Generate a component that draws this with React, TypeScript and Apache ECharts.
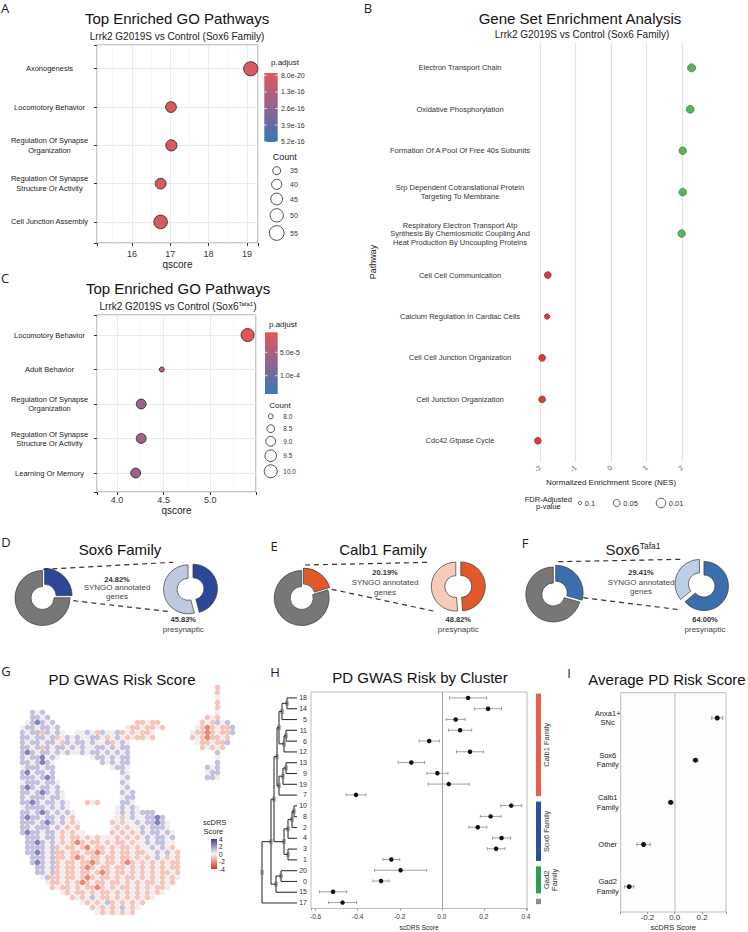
import React, { useEffect, useRef } from 'react';
import * as echarts from 'echarts';

const FONT = '"Liberation Sans", Arial, Helvetica, sans-serif';
const LETTER_FONT = '"Open Sans", "Liberation Sans", Arial, sans-serif';

// ===== Panel A: Top Enriched GO Pathways (Sox6 Family) =====
const aTerms = ['Axonogenesis', 'Locomotory Behavior', 'Regulation Of Synapse\nOrganization', 'Regulation Of Synapse\nStructure Or Activity', 'Cell Junction Assembly'];
const aQscore = [19.1, 17.02, 17.03, 16.75, 16.75];
const aCount = [53, 42, 43, 42, 51];
const aPadj = [8.0e-20, 1.0e-17, 1.2e-17, 2.0e-17, 2.0e-17];
const aCountLegend = [35, 40, 45, 50, 55];
const aPadjTicks = [8.0e-20, 1.3e-16, 2.6e-16, 3.9e-16, 5.2e-16];
const aPadjDomain = [-1.8e-17, 5.22e-16];

// ===== Panel B: GSEA =====
const bPathways = [
  'Electron Transport Chain',
  'Oxidative Phosphorylation',
  'Formation Of A Pool Of Free 40s Subunits',
  'Srp Dependent Cotranslational Protein\nTargeting To Membrane',
  'Respiratory Electron Transport Atp\nSynthesis By Chemiosmotic Coupling And\nHeat Production By Uncoupling Proteins',
  'Cell Cell Communication',
  'Calcium Regulation In Cardiac Cells',
  'Cell Cell Junction Organization',
  'Cell Junction Organization',
  'Cdc42 Gtpase Cycle',
];
const bNES = [2.27, 2.23, 2.02, 2.02, 1.99, -1.78, -1.8, -1.94, -1.94, -2.06];
const bFDR = [0.026, 0.03, 0.036, 0.036, 0.036, 0.053, 0.069, 0.053, 0.053, 0.053];
const bFdrLegend = [0.1, 0.05, 0.01];

// ===== Panel C: Top Enriched GO Pathways (Sox6 Tafa1) =====
const cTerms = ['Locomotory Behavior', 'Adult Behavior', 'Regulation Of Synapse\nOrganization', 'Regulation Of Synapse\nStructure Or Activity', 'Learning Or Memory'];
const cQscore = [5.4, 4.48, 4.26, 4.26, 4.2];
const cCount = [10, 8, 9, 9, 9];
const cPadj = [8.5e-6, 3.0e-5, 6.0e-5, 6.0e-5, 6.3e-5];
const cCountLegend = [8.0, 8.5, 9.0, 9.5, 10.0];
const cPadjTicks = [5.0e-5, 1.0e-4];
const cPadjDomain = [7.3e-6, 1.39e-4];

// ===== Panels D-F: SYNGO donuts =====
const syngoPct = [24.82, 20.19, 29.41];
const presynPct = [45.83, 48.82, 64.0];

// ===== Panel G: UMAP scDRS (cells; [startColumn, tints]) =====
const umapRows: [number, string][][] = [
  [[40, 'r']],
  [[40, 'r']],
  [[40, 'm']],
  [[40, 'r']],
  [[40, 'r']],
  [[3, 'bmb'], [40, 'm']],
  [[3, 'bbmb'], [38, 'rmr']],
  [[2, 'mbBbmb'], [24, 'rrmrr'], [37, 'rmrbmb']],
  [[1, 'mbbmbbmb'], [22, 'mrrmrrmr'], [36, 'mrRrmrrb']],
  [[1, 'bmbbrbmbm'], [12, 'mmbmrbmmbrmrmrrm'], [35, 'mrrRrmrrb']],
  [[1, 'bbmbbmbrmbmbmmbbmrmbmrmrrmr'], [35, 'rmrRrrmr']],
  [[1, 'bmbbmbbmrbmbbmbmmbrmbm'], [36, 'mrrmrrb']],
  [[1, 'bbmbrbmbbmbmbmmbbmbmbb'], [37, 'rmrmr']],
  [[1, 'bBbmbbmbmbmmbmbbmbmbmb'], [40, 'b']],
  [[1, 'bmbbBmbm'], [15, 'mbbmbmbb'], [40, 'm']],
  [[1, 'bbmbBbm'], [17, 'bmbmbb'], [40, 'b']],
  [[1, 'mbbbmbb'], [19, 'mbbm'], [38, 'bmb']],
  [[1, 'bBmbbmb'], [21, 'bm'], [38, 'mbb']],
  [[1, 'bbbmbBb'], [21, 'mb'], [38, 'bbm']],
  [[1, 'mbbbmbbm'], [21, 'bm']],
  [[1, 'bBbmbbmb'], [21, 'mb']],
  [[1, 'bbmbBbmbm'], [21, 'bmb']],
  [[1, 'bmbbbmbbm'], [21, 'mbb']],
  [[1, 'bbBbmbbmbm'], [14, 'rmr'], [21, 'bbm']],
  [[1, 'mbbbbmbmbm'], [20, 'mbmbm']],
  [[1, 'bbmbBbmbmbm'], [20, 'mbmbmbbb']],
  [[1, 'bBbbmbbmbmr'], [20, 'mrmbmmbbBb']],
  [[1, 'bbbmbBbmbmrm'], [19, 'rmrmmbmbbBbm']],
  [[1, 'bbmbbbmbmrmr'], [19, 'mrmrmmbmbbbm']],
  [[1, 'bBbbmbbmrmrmm'], [19, 'rmrmrmbmbbmbm']],
  [[2, 'bbbmbbmrmrrmrmrmmmrmrmrmbmbbmb']],
  [[2, 'bbBbmbmrmrRrmrrmrmrrmrmmbmbbmm']],
  [[2, 'bbbbmbrmrrmrRmrrmrmrrmrmmbmbmr']],
  [[2, 'bbBbmbrrmrrmrrRrmrmrrmrrmmbmbmr']],
  [[3, 'bbbmbrrmrRrmrrmrrmrrmrmrmbmrmr']],
  [[3, 'bBbmbrmrrmrrRrmrrmrRrmrmrmrmrr']],
  [[4, 'bbmbrmrrmrRrmrrmrrmrmrmrmrmrr']],
  [[4, 'bbmbrmrrmrrmrRrmrrmrmrmrmrrmr']],
  [[5, 'mbrrmrrmrRrmrrmrmrrmrmrmrmrm']],
  [[6, 'mrrmrmrRrmrrmrrmrmrmrrmrmr']],
  [[7, 'rmrrmrmrrRrmrmrrmrmrmrrm']],
  [[9, 'mrmrrmrmrrmrmrmrmrmrm']],
  [[11, 'rmrmbmrrmrmrmrmrm']],
  [[13, 'mrmrmbrmrmrmr']],
  [[15, 'rmrmrmbmrm']],
  [[16, 'mrmrmrmr']],
];
const umapTint: Record<string, string> = { B: '#5B59A4', b: '#B1ADD6', m: '#EFE7EB', r: '#F1B4A5', R: '#DC6450' };
const scdrsTicks = [4, 2, 0, -2, -4];

// ===== Panel H: PD GWAS risk by cluster =====
const hClusters = ['18', '14', '5', '11', '6', '12', '13', '9', '19', '7', '10', '8', '2', '4', '3', '1', '20', '0', '15', '17'];
const hScore = [0.125, 0.22, 0.066, 0.087, -0.06, 0.134, -0.145, -0.021, 0.033, -0.408, 0.33, 0.232, 0.171, 0.284, 0.258, -0.24, -0.196, -0.289, -0.517, -0.472];
const hErr = [0.088, 0.064, 0.045, 0.055, 0.048, 0.064, 0.063, 0.05, 0.098, 0.047, 0.05, 0.049, 0.043, 0.043, 0.042, 0.04, 0.124, 0.038, 0.065, 0.066];
// dendrogram merges: [child, child, height]; nK refers to the K-th merge
const hMerges: [string, string, number][] = [
  ['18', '14', 10], ['n0', '5', 15], ['11', '6', 11], ['n2', '12', 13], ['n1', 'n3', 18],
  ['13', '9', 11], ['n5', '19', 14], ['n6', '7', 18], ['n4', 'n7', 20],
  ['10', '8', 3], ['n9', '2', 5], ['n10', '4', 9], ['3', '1', 9], ['n11', 'n12', 13],
  ['n8', 'n13', 23], ['20', '0', 16], ['n15', '15', 21], ['n14', 'n16', 26], ['n17', '17', 35],
];
const hFamilies = ['Calb1 Family', 'Sox6 Family', 'Gad2\nFamily', ''];
const hFamilySizes = [10, 6, 3, 1];
const hFamilyColors = ['#E8604C', '#2C4E9C', '#2F9B58', '#8C8C8C'];

// ===== Panel I: Average PD risk score =====
const iGroups = ['Anxa1+\nSNc', 'Sox6\nFamily', 'Calb1\nFamily', 'Other', 'Gad2\nFamily'];
const iScore = [0.311, 0.152, -0.029, -0.228, -0.333];
const iErr = [0.04, 0.018, 0.017, 0.049, 0.034];

// ---------- helpers ----------
const padjStops = ['#E2585A', '#8F6590', '#3877B6'];
const scdrsStops = ['#3D3B96', '#F7F4F7', '#D4351F'];

function hexToRgb(h: string) {
  const n = parseInt(h.slice(1), 16);
  return [(n >> 16) & 255, (n >> 8) & 255, n & 255];
}
function rampColor(stops: string[], t: number) {
  const tt = Math.max(0, Math.min(1, t));
  const n = stops.length - 1;
  const i = Math.min(n - 1, Math.floor(tt * n));
  const f = tt * n - i;
  const a = hexToRgb(stops[i]);
  const b = hexToRgb(stops[i + 1]);
  const c = a.map((v, k) => Math.round(v + (b[k] - v) * f));
  return `rgb(${c[0]},${c[1]},${c[2]})`;
}
function vGrad(stops: string[]) {
  return new echarts.graphic.LinearGradient(0, 0, 0, 1, stops.map((c, i) => ({ offset: i / (stops.length - 1), color: c })));
}
const sizeA = (c: number) => Math.sqrt(64 + (c - 35) * 7.6);
const sizeC = (c: number) => Math.sqrt(25 + (c - 8) * 72);
function fdrSize(p: number) {
  const L = -Math.log10(p);
  const pts = [[1, 3.3], [1.301, 7], [2, 9.5]];
  if (L <= pts[0][0]) return pts[0][1];
  for (let i = 0; i < pts.length - 1; i++) {
    const [x0, y0] = pts[i];
    const [x1, y1] = pts[i + 1];
    if (L <= x1) return y0 + ((y1 - y0) * (L - x0)) / (x1 - x0);
  }
  return pts[pts.length - 1][1];
}
const isMult = (v: number, s: number) => Math.abs(v / s - Math.round(v / s)) < 1e-6;
const catFmt = (names: string[]) => (v: number) => {
  const i = Math.round(v);
  return Math.abs(v - i) < 1e-6 && i >= 0 && i < names.length ? names[i] : '';
};

function txt(x: number, y: number, text: string, size: number, o: any = {}) {
  return {
    type: 'text', x, y, rotation: o.rot || 0, silent: true, z: 50,
    style: {
      text, x: 0, y: 0, fill: o.color || '#222', fontSize: size, fontFamily: o.family || FONT,
      fontWeight: o.weight || 'normal', align: o.align || 'center', verticalAlign: 'middle',
      textAlign: o.align || 'center', textVerticalAlign: 'middle', lineHeight: o.lh,
    },
  };
}
function supTxt(x: number, y: number, main: string, sup: string, tail: string, size: number, supSize: number) {
  const base = { fontSize: size, fontFamily: FONT, fill: '#222', color: '#222', lineHeight: size * 1.02 };
  return {
    type: 'text', x, y, silent: true, z: 50,
    style: {
      text: `{n|${main}}{s|${sup}}` + (tail ? `{n|${tail}}` : ''),
      x: 0, y: 0, align: 'center', verticalAlign: 'middle', textAlign: 'center', textVerticalAlign: 'middle',
      rich: {
        n: base,
        s: { fontSize: supSize, fontFamily: FONT, fill: '#222', color: '#222', lineHeight: supSize * 1.1, verticalAlign: 'top' },
      },
    },
  };
}
function line(x1: number, y1: number, x2: number, y2: number, o: any = {}) {
  return { type: 'line', silent: true, z: 50, shape: { x1, y1, x2, y2 }, style: { stroke: o.color || '#333', lineWidth: o.w || 1, lineDash: o.dash } };
}

function buildOption() {
  // ---------- graphic ----------
  const g: any[] = [];
  ([['A', 5, 8], ['B', 368, 8], ['C', 5, 278], ['D', 6, 542], ['E', 274, 546], ['F', 525, 543], ['G', 6, 671], ['H', 275, 672], ['I', 569, 673]] as [string, number, number][])
    .forEach(([t, x, y]) => g.push(txt(x, y, t, 13, { family: LETTER_FONT, color: '#222' })));
  g.push(txt(177, 18, 'Top Enriched GO Pathways', 15, { color: '#111' }));
  g.push(txt(177, 36, 'Lrrk2 G2019S vs Control (Sox6 Family)', 10));
  g.push(txt(580, 18, 'Gene Set Enrichment Analysis', 15, { color: '#111' }));
  g.push(txt(582, 34, 'Lrrk2 G2019S vs Control (Sox6 Family)', 10));
  g.push(txt(178, 288, 'Top Enriched GO Pathways', 15, { color: '#111' }));
  g.push(supTxt(178, 306, 'Lrrk2 G2019S vs Control (Sox6', 'Tafa1', ')', 10, 6));
  g.push(txt(120, 549, 'Sox6 Family', 15, { color: '#111' }));
  g.push(txt(383, 549, 'Calb1 Family', 15, { color: '#111' }));
  g.push(supTxt(633, 549, 'Sox6', 'Tafa1', '', 15, 8.5));
  g.push(txt(122, 679, 'PD GWAS Risk Score', 15, { color: '#111' }));
  g.push(txt(420, 677, 'PD GWAS Risk by Cluster', 15, { color: '#111' }));
  g.push(txt(667, 679, 'Average PD Risk Score', 15, { color: '#111' }));

  // A legend
  const aBar = { x: 264.3, y: 73, w: 13.4, h: 69 };
  g.push(txt(285, 62, 'p.adjust', 8));
  g.push({ type: 'rect', silent: true, z: 40, shape: { x: aBar.x, y: aBar.y, width: aBar.w, height: aBar.h }, style: { fill: vGrad(padjStops) } });
  aPadjTicks.forEach((v) => {
    const y = aBar.y + ((v - aPadjDomain[0]) / (aPadjDomain[1] - aPadjDomain[0])) * aBar.h;
    g.push(line(aBar.x, y, aBar.x + 2.5, y, { color: '#fff', w: 0.8 }));
    g.push(line(aBar.x + aBar.w - 2.5, y, aBar.x + aBar.w, y, { color: '#fff', w: 0.8 }));
    g.push(txt(281, y, v.toExponential(1), 7, { align: 'left', color: '#333' }));
  });
  g.push(txt(284.7, 156.7, 'Count', 9));
  const aLegY = [170.7, 184.3, 199, 215.3, 233];
  aCountLegend.forEach((c, i) => {
    g.push({ type: 'circle', silent: true, z: 40, shape: { cx: 276.7, cy: aLegY[i], r: sizeA(c) / 2 }, style: { fill: 'transparent', stroke: '#222', lineWidth: 0.8 } });
    g.push(txt(290, aLegY[i], String(c), 7, { align: 'left', color: '#333' }));
  });

  // C legend
  const cBar = { x: 265, y: 332.3, w: 12.7, h: 61.7 };
  g.push(txt(283, 324.7, 'p.adjust', 8));
  g.push({ type: 'rect', silent: true, z: 40, shape: { x: cBar.x, y: cBar.y, width: cBar.w, height: cBar.h }, style: { fill: vGrad(padjStops) } });
  cPadjTicks.forEach((v) => {
    const y = cBar.y + ((v - cPadjDomain[0]) / (cPadjDomain[1] - cPadjDomain[0])) * cBar.h;
    g.push(line(cBar.x, y, cBar.x + 2.5, y, { color: '#fff', w: 0.8 }));
    g.push(line(cBar.x + cBar.w - 2.5, y, cBar.x + cBar.w, y, { color: '#fff', w: 0.8 }));
    g.push(txt(280, y, v.toExponential(1), 7, { align: 'left', color: '#333' }));
  });
  g.push(txt(280, 405.3, 'Count', 8));
  const cLegY = [416.3, 428.7, 441.3, 455.7, 471.3];
  cCountLegend.forEach((c, i) => {
    g.push({ type: 'circle', silent: true, z: 40, shape: { cx: 270.7, cy: cLegY[i], r: sizeC(c) / 2 }, style: { fill: 'transparent', stroke: '#222', lineWidth: 0.8 } });
    g.push(txt(283.3, cLegY[i], c.toFixed(1), 6.5, { align: 'left', color: '#333' }));
  });

  // B extras
  g.push(txt(373, 262, 'Pathway', 9, { rot: Math.PI / 2 }));
  g.push(txt(548.3, 499.3, 'FDR-Adjusted', 7.5));
  g.push(txt(548.3, 506.7, 'p-value', 7.5));
  const bLegX = [580, 616.7, 661];
  bFdrLegend.forEach((p, i) => {
    const r = fdrSize(p) / 2;
    g.push({ type: 'circle', silent: true, z: 40, shape: { cx: bLegX[i], cy: 503, r }, style: { fill: 'transparent', stroke: '#333', lineWidth: 0.8 } });
    g.push(txt(bLegX[i] + r + 3, 503, String(p), 7.5, { align: 'left', color: '#333' }));
  });

  // D-F text + dashed connectors
  const pctTexts = [
    { x: 117, y: [579, 587.3, 596], px: 183.3 },
    { x: 385, y: [572.3, 582.7, 592.3], px: 458.3 },
    { x: 641, y: [572.7, 582.7, 591.7], px: 705 },
  ];
  pctTexts.forEach((t, k) => {
    g.push(txt(t.x, t.y[0], syngoPct[k].toFixed(2) + '%', 7.5, { weight: 'bold', color: '#333' }));
    g.push(txt(t.x, t.y[1], 'SYNGO annotated', 8, { color: '#444' }));
    g.push(txt(t.x, t.y[2], 'genes', 8, { color: '#444' }));
    g.push(txt(t.px, 619.3, presynPct[k].toFixed(2) + '%', 7.5, { weight: 'bold', color: '#333' }));
    g.push(txt(t.px, 629, 'presynaptic', 8, { color: '#444' }));
  });
  const dashes = [
    [43.3, 569.3, 173.3, 562.3], [73.3, 600.7, 170, 611.7],
    [305, 565, 430, 562.3], [331.7, 589.3, 433.3, 611],
    [558.3, 561.7, 681.7, 559.3], [583.3, 597.7, 681.7, 610],
  ];
  dashes.forEach(([x1, y1, x2, y2]) => g.push(line(x1, y1, x2, y2, { color: '#333', w: 1.2, dash: [5, 4] })));

  // G legend
  g.push(txt(203, 822.5, 'scDRS', 7.5, { align: 'left' }));
  g.push(txt(203.5, 831.5, 'Score', 7.5, { align: 'left' }));
  const sBar = { x: 211, y: 839, w: 6, h: 30 };
  g.push({ type: 'rect', silent: true, z: 40, shape: { x: sBar.x, y: sBar.y, width: sBar.w, height: sBar.h }, style: { fill: vGrad(scdrsStops) } });
  scdrsTicks.forEach((v) => {
    const y = sBar.y + ((4 - v) / 8) * sBar.h;
    g.push(txt(219, y, String(v), 6.5, { align: 'left', color: '#222' }));
  });

  // ---------- data prep ----------
  const aDomainSpan = aPadjDomain[1] - aPadjDomain[0];
  const aData = aQscore.map((q, i) => ({
    value: [q, i, aCount[i]],
    itemStyle: { color: rampColor(padjStops, (aPadj[i] - aPadjDomain[0]) / aDomainSpan) },
  }));
  const cData = cQscore.map((q, i) => ({
    value: [q, i, cCount[i]],
    itemStyle: { color: rampColor(padjStops, (cPadj[i] - cPadjDomain[0]) / (cPadjDomain[1] - cPadjDomain[0])) },
  }));
  const bData = bNES.map((v, i) => ({
    value: [v, i, bFDR[i]],
    symbolSize: fdrSize(bFDR[i]),
    itemStyle: v > 0 ? { color: '#5DB35D', borderColor: '#3B873B' } : { color: '#DC3C3C', borderColor: '#962222' },
  }));
  const umapData: any[] = [];
  umapRows.forEach((runs, r) =>
    runs.forEach(([c0, s]) => {
      for (let j = 0; j < s.length; j++) {
        umapData.push({ value: [c0 + j + 0.5, r + 0.5], itemStyle: { color: umapTint[s[j]] } });
      }
    })
  );
  const pos: Record<string, { h: number; y: number }> = {};
  hClusters.forEach((c, i) => (pos[c] = { h: 0, y: i }));
  const dendroData: number[][] = [];
  hMerges.forEach(([a, b, h], k) => {
    const A = pos[a];
    const B = pos[b];
    const y = (A.y + B.y) / 2;
    pos['n' + k] = { h, y };
    dendroData.push([h, y, A.h, A.y, B.h, B.y]);
  });
  const famData: number[][] = [];
  let start = 0;
  hFamilySizes.forEach((n, k) => {
    famData.push([start, start + n - 1, k]);
    start += n;
  });

  const errRender = (cap: number) => (params: any, api: any) => {
    const lo = api.value(0);
    const hi = api.value(1);
    const y = api.value(2);
    const a = api.coord([lo, y]);
    const b = api.coord([hi, y]);
    const st = { stroke: '#8a8a8a', lineWidth: 0.8 };
    return {
      type: 'group',
      children: [
        { type: 'line', shape: { x1: a[0], y1: a[1], x2: b[0], y2: b[1] }, style: st },
        { type: 'line', shape: { x1: a[0], y1: a[1] - cap, x2: a[0], y2: a[1] + cap }, style: st },
        { type: 'line', shape: { x1: b[0], y1: b[1] - cap, x2: b[0], y2: b[1] + cap }, style: st },
      ],
    };
  };

  const pie = (cx: number, cy: number, r0: number, r1: number, items: any[], off: number) => ({
    type: 'pie', center: [cx, cy], radius: [r0, r1], startAngle: 90, clockwise: true,
    selectedMode: 'multiple', selectedOffset: off, silent: true, emphasis: { disabled: true },
    label: { show: false }, labelLine: { show: false }, avoidLabelOverlap: false,
    data: items.map((it) => ({ value: it.v, selected: it.sel, itemStyle: { color: it.c, borderColor: '#3a3a3a', borderWidth: 0.7 } })),
  });
  const GRAY = '#777777';
  const donutColors = [['#2C4795', '#BEC8DF'], ['#E2582A', '#F8CBB8'], ['#3A6EAF', '#BCCFE6']];
  const leftCenters = [[42.5, 598], [301.7, 598], [553.3, 594.5]];
  const rightCenters = [[190.5, 589], [458.3, 586.5], [701.7, 585]];
  const pies: any[] = [];
  syngoPct.forEach((p, k) => {
    pies.push(pie(leftCenters[k][0], leftCenters[k][1], 11.5, 27.5, [
      { v: p, c: donutColors[k][0], sel: true },
      { v: 100 - p, c: GRAY, sel: false },
    ], 3));
    pies.push(pie(rightCenters[k][0], rightCenters[k][1], 11, 24.5, [
      { v: presynPct[k], c: donutColors[k][0], sel: true },
      { v: 100 - presynPct[k], c: donutColors[k][1], sel: true },
    ], 2.5));
  });

  const hiddenAxis = (gi: number, min: number, max: number, inverse = false) => ({ gridIndex: gi, type: 'value', min, max, inverse, show: false, axisLine: { onZero: false } });
  const noLine = { show: false, onZero: false };

  return {
    animation: false,
    backgroundColor: '#ffffff',
    textStyle: { fontFamily: FONT },
    grid: [
      { left: 97, top: 45, width: 161, height: 198, show: true, borderColor: '#8f8f8f', borderWidth: 1, backgroundColor: '#fff' },
      { left: 540, top: 43, width: 142, height: 418.5, show: false },
      { left: 97, top: 315, width: 159, height: 177, show: true, borderColor: '#8f8f8f', borderWidth: 1, backgroundColor: '#fff' },
      { left: 15, top: 685, width: 230, height: 230, show: false },
      { left: 262, top: 692, width: 35, height: 217, show: false },
      { left: 311, top: 692, width: 216, height: 217, show: true, borderColor: '#bdbdbd', borderWidth: 1, backgroundColor: '#fff' },
      { left: 536, top: 692, width: 5, height: 217, show: false },
      { left: 620.7, top: 692.7, width: 105.3, height: 220, show: true, borderColor: '#bdbdbd', borderWidth: 1, backgroundColor: '#fdfdfd' },
    ],
    xAxis: [
      {
        gridIndex: 0, type: 'value', position: 'bottom', min: 15.09, max: 19.29, splitNumber: 5,
        axisLine: noLine,
        axisTick: { show: true, length: 3, lineStyle: { color: '#333' } },
        axisLabel: { color: '#333', fontSize: 9, margin: 6, formatter: (v: number) => (isMult(v, 1) ? v.toFixed(0) : '') },
        splitLine: { show: true, lineStyle: { color: '#EBEBEB', width: 1 } },
        minorTick: { show: false, splitNumber: 2 },
        minorSplitLine: { show: true, lineStyle: { color: '#F4F4F4', width: 0.6 } },
        name: 'qscore', nameLocation: 'middle', nameGap: 16, nameTextStyle: { fontSize: 10, color: '#222' },
      },
      {
        gridIndex: 1, type: 'value', position: 'bottom', min: -2, max: 2, interval: 1,
        axisLine: noLine, axisTick: { show: false },
        axisLabel: { rotate: 45, fontSize: 7, color: '#555', margin: 5 },
        splitLine: { show: true, lineStyle: { color: '#E3E3E3', width: 1.2 } },
        name: 'Normalized Enrichment Score (NES)', nameLocation: 'middle', nameGap: 16.5, nameTextStyle: { fontSize: 8, color: '#222' },
      },
      {
        gridIndex: 2, type: 'value', position: 'bottom', min: 3.786, max: 5.49, splitNumber: 3,
        axisLine: noLine,
        axisTick: { show: true, length: 3, lineStyle: { color: '#333' } },
        axisLabel: { color: '#333', fontSize: 9, margin: 3.5, formatter: (v: number) => (isMult(v, 0.5) ? v.toFixed(1) : '') },
        splitLine: { show: true, lineStyle: { color: '#EBEBEB', width: 1 } },
        minorTick: { show: false, splitNumber: 2 },
        minorSplitLine: { show: true, lineStyle: { color: '#F4F4F4', width: 0.6 } },
        name: 'qscore', nameLocation: 'middle', nameGap: 12.5, nameTextStyle: { fontSize: 10, color: '#222' },
      },
      hiddenAxis(3, 0, 46),
      hiddenAxis(4, 0, 35, true),
      {
        gridIndex: 5, type: 'value', position: 'bottom', min: -0.622, max: 0.405, splitNumber: 5,
        axisLine: noLine,
        axisTick: { show: true, length: 2, lineStyle: { color: '#999' } },
        axisLabel: { color: '#333', fontSize: 6.5, margin: 4.5, formatter: (v: number) => (isMult(v, 0.2) ? (Math.abs(v) < 1e-9 ? '0.0' : v.toFixed(1)) : '') },
        splitLine: { show: false },
        name: 'scDRS Score', nameLocation: 'middle', nameGap: 15.5, nameTextStyle: { fontSize: 6.5, color: '#222' },
      },
      hiddenAxis(6, 0, 1),
      {
        gridIndex: 7, type: 'value', position: 'bottom', min: -0.395, max: 0.375, splitNumber: 5,
        axisLine: noLine,
        axisTick: { show: true, length: 2, lineStyle: { color: '#999' } },
        axisLabel: { color: '#333', fontSize: 8, margin: 1.5, formatter: (v: number) => (isMult(v, 0.2) ? (Math.abs(v) < 1e-9 ? '0.0' : v.toFixed(1)) : '') },
        splitLine: { show: false },
        name: 'scDRS Score', nameLocation: 'middle', nameGap: 11, nameTextStyle: { fontSize: 7.5, color: '#222' },
      },
    ],
    yAxis: [
      {
        gridIndex: 0, type: 'value', position: 'left', inverse: true, min: -0.62, max: 4.55, splitNumber: 5,
        axisLine: noLine,
        axisTick: { show: true, length: 3, lineStyle: { color: '#333' } },
        axisLabel: { formatter: catFmt(aTerms), align: 'center', margin: 47.5, fontSize: 7.5, lineHeight: 10.5, color: '#222' },
        splitLine: { show: true, lineStyle: { color: '#EBEBEB', width: 1 } },
      },
      {
        gridIndex: 1, type: 'value', position: 'left', inverse: true, min: -0.6, max: 9.5, splitNumber: 10,
        axisLine: noLine, axisTick: { show: false }, splitLine: { show: false },
        axisLabel: { formatter: catFmt(bPathways), align: 'center', margin: 80, fontSize: 7.5, lineHeight: 8.5, color: '#333' },
      },
      {
        gridIndex: 2, type: 'value', position: 'left', inverse: true, min: -0.58, max: 4.55, splitNumber: 5,
        axisLine: noLine,
        axisTick: { show: true, length: 3, lineStyle: { color: '#333' } },
        axisLabel: { formatter: catFmt(cTerms), align: 'center', margin: 47.5, fontSize: 7.5, lineHeight: 9, color: '#222' },
        splitLine: { show: true, lineStyle: { color: '#EBEBEB', width: 1 } },
      },
      hiddenAxis(3, 0, 46, true),
      hiddenAxis(4, -0.55, 19.55, true),
      {
        gridIndex: 5, type: 'value', position: 'left', inverse: true, min: -0.55, max: 19.55, splitNumber: 20,
        axisLine: noLine, axisTick: { show: false }, splitLine: { show: false },
        axisLabel: { formatter: catFmt(hClusters), margin: 4, fontSize: 7, color: '#333' },
      },
      hiddenAxis(6, -0.55, 19.55, true),
      {
        gridIndex: 7, type: 'value', position: 'left', inverse: true, min: -0.6, max: 4.6, splitNumber: 5,
        axisLine: noLine, axisTick: { show: false }, splitLine: { show: false },
        axisLabel: { formatter: catFmt(iGroups), align: 'center', margin: 13, fontSize: 7.5, lineHeight: 9.5, color: '#222' },
      },
    ],
    series: [
      {
        type: 'scatter', xAxisIndex: 0, yAxisIndex: 0, clip: false, silent: true, data: aData,
        symbolSize: (v: number[]) => sizeA(v[2]), itemStyle: { borderColor: '#222', borderWidth: 0.8, opacity: 1 }, z: 5,
      },
      {
        type: 'scatter', xAxisIndex: 1, yAxisIndex: 1, clip: false, silent: true, data: bData,
        itemStyle: { borderWidth: 0.8, opacity: 1 }, z: 5,
      },
      {
        type: 'scatter', xAxisIndex: 2, yAxisIndex: 2, clip: false, silent: true, data: cData,
        symbolSize: (v: number[]) => sizeC(v[2]), itemStyle: { borderColor: '#222', borderWidth: 0.8, opacity: 1 }, z: 5,
      },
      {
        type: 'scatter', xAxisIndex: 3, yAxisIndex: 3, clip: false, silent: true, data: umapData,
        symbolSize: 5.6, itemStyle: { opacity: 0.75 },
      },
      {
        type: 'custom', xAxisIndex: 4, yAxisIndex: 4, silent: true, clip: false, data: dendroData,
        renderItem: (params: any, api: any) => {
          const h = api.value(0), y = api.value(1), h1 = api.value(2), y1 = api.value(3), h2 = api.value(4), y2 = api.value(5);
          const p = api.coord([h, y]);
          const a1 = api.coord([h, y1]);
          const a2 = api.coord([h, y2]);
          const c1 = api.coord([h1, y1]);
          const c2 = api.coord([h2, y2]);
          const st = { stroke: '#333', lineWidth: 1.1 };
          return {
            type: 'group',
            children: [
              { type: 'line', shape: { x1: a1[0], y1: a1[1], x2: a2[0], y2: a2[1] }, style: st },
              { type: 'line', shape: { x1: a1[0], y1: a1[1], x2: c1[0], y2: c1[1] }, style: st },
              { type: 'line', shape: { x1: a2[0], y1: a2[1], x2: c2[0], y2: c2[1] }, style: st },
              { type: 'rect', shape: { x: p[0] - 1.5, y: p[1] - 2.5, width: 3, height: 5 }, style: { fill: '#777' } },
            ],
          };
        },
      },
      {
        type: 'custom', xAxisIndex: 5, yAxisIndex: 5, silent: true, clip: false,
        data: hScore.map((v, i) => [v - hErr[i], v + hErr[i], i]),
        renderItem: errRender(1.6),
      },
      {
        type: 'scatter', xAxisIndex: 5, yAxisIndex: 5, silent: true, clip: false,
        data: hScore.map((v, i) => [v, i]), symbolSize: 4.5, itemStyle: { color: '#111', opacity: 1 }, z: 6,
        markLine: { silent: true, symbol: ['none', 'none'], label: { show: false }, lineStyle: { color: '#A3A3A3', width: 1, type: 'solid' }, data: [{ xAxis: 0 }] },
      },
      {
        type: 'custom', xAxisIndex: 6, yAxisIndex: 6, silent: true, clip: false, data: famData,
        renderItem: (params: any, api: any) => {
          const s = api.value(0), e = api.value(1), k = api.value(2);
          const tl = api.coord([0, s - 0.4]);
          const br = api.coord([1, e + 0.1]);
          const label = hFamilies[k];
          const nLines = label.split('\n').length;
          const children: any[] = [
            { type: 'rect', shape: { x: tl[0], y: tl[1], width: br[0] - tl[0], height: br[1] - tl[1] }, style: { fill: hFamilyColors[k] } },
          ];
          if (label) {
            children.push({
              type: 'text', x: br[0] + 5.7 + (nLines - 1) * 4, y: (tl[1] + br[1]) / 2, rotation: Math.PI / 2,
              style: { text: label, x: 0, y: 0, fill: '#333', fontSize: 7.5, fontFamily: FONT, lineHeight: 8, align: 'center', verticalAlign: 'middle', textAlign: 'center', textVerticalAlign: 'middle' },
            });
          }
          return { type: 'group', children };
        },
      },
      {
        type: 'custom', xAxisIndex: 7, yAxisIndex: 7, silent: true, clip: false,
        data: iScore.map((v, i) => [v - iErr[i], v + iErr[i], i]),
        renderItem: errRender(2),
      },
      {
        type: 'scatter', xAxisIndex: 7, yAxisIndex: 7, silent: true, clip: false,
        data: iScore.map((v, i) => [v, i]), symbolSize: 5, itemStyle: { color: '#111', opacity: 1 }, z: 6,
        markLine: { silent: true, symbol: ['none', 'none'], label: { show: false }, lineStyle: { color: '#CFCFCF', width: 1.5, type: 'solid' }, data: [{ xAxis: 0 }] },
      },
      ...pies,
    ],
    graphic: { elements: g },
  };
}

export default function App() {
  const ref = useRef<HTMLDivElement>(null);
  useEffect(() => {
    if (!ref.current) return;
    const chart = echarts.init(ref.current, null, { renderer: 'svg', width: 748, height: 932 });
    chart.setOption(buildOption() as any);
    return () => chart.dispose();
  }, []);
  return <div ref={ref} style={{ position: 'absolute', left: 0, top: 0, width: 748, height: 932, background: '#fff' }} />;
}
